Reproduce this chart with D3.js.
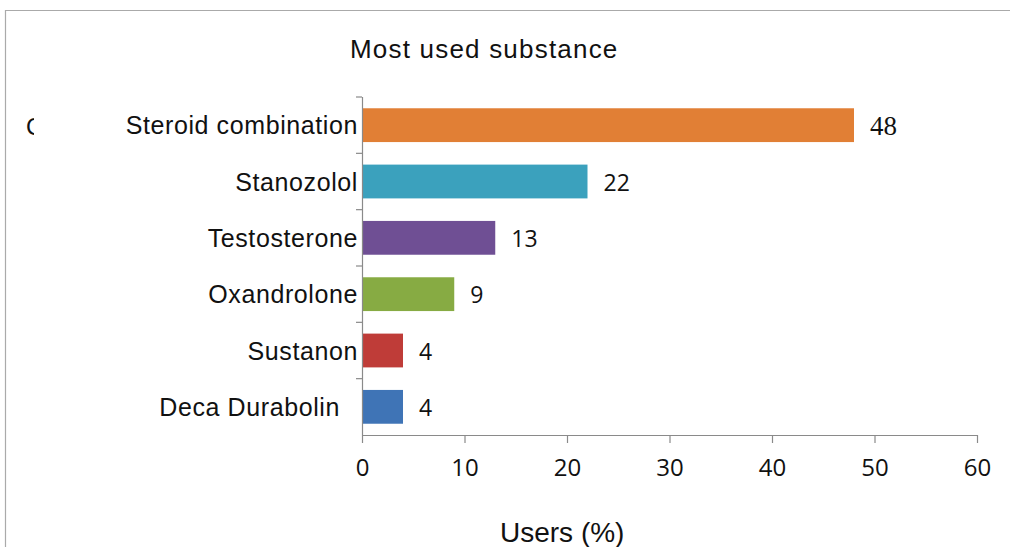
<!DOCTYPE html>
<html>
<head>
<meta charset="utf-8">
<script src="https://cdn.jsdelivr.net/npm/d3@7"></script>
<style>
  html, body { margin: 0; padding: 0; background: #fff; }
  svg { display: block; }
</style>
</head>
<body>
<svg id="chart" width="1010" height="547"></svg>
<script>
// Most used substance, share of users (%)
const categories = ["Steroid combination", "Stanozolol", "Testosterone", "Oxandrolone", "Sustanon", "Deca Durabolin"];
const values = [48, 22, 13, 9, 4, 4];
const barColors = ["#E17F35", "#3BA1BD", "#6F4F94", "#87AB43", "#BF3C38", "#3F74B6"];
const xTicks = [0, 10, 20, 30, 40, 50, 60];

const svg = d3.select("#chart");
const sans = "Liberation Sans, Arial, sans-serif";

// panel frame
svg.append("path")
  .attr("d", "M5.5,547 V10.5 H1010")
  .attr("fill", "none")
  .attr("stroke", "#aaa")
  .attr("stroke-width", 1.2);

const plot = { left: 362, right: 977, top: 97, bottom: 435 };

const x = d3.scaleLinear().domain([0, 60]).range([plot.left, plot.right]);
const y = d3.scaleBand().domain(categories).range([plot.top, plot.bottom]).paddingInner(0.4).paddingOuter(0.2);
const yEdges = d3.scaleBand().domain(categories).range([plot.top, plot.bottom]);

// title
svg.append("text")
  .attr("x", 350).attr("y", 58)
  .attr("font-family", sans)
  .attr("font-size", 26)
  .attr("letter-spacing", 1.2)
  .attr("fill", "#111")
  .text("Most used substance");

// panel letter, partly cut off at the left
svg.append("clipPath").attr("id", "letterClip")
  .append("rect").attr("x", 0).attr("y", 100).attr("width", 34).attr("height", 60);
svg.append("text")
  .attr("x", 26).attr("y", 135)
  .attr("clip-path", "url(#letterClip)")
  .attr("font-family", sans)
  .attr("font-size", 24)
  .attr("fill", "#111")
  .text("C");

// bars
svg.append("g").selectAll("rect")
  .data(categories)
  .join("rect")
  .attr("x", x(0))
  .attr("y", d => y(d))
  .attr("width", (d, i) => x(values[i]) - x(0))
  .attr("height", y.bandwidth())
  .attr("fill", (d, i) => barColors[i]);

// value labels
svg.append("g").selectAll("text")
  .data(categories)
  .join("text")
  .attr("x", (d, i) => x(values[i]) + 16)
  .attr("y", (d, i) => y(d) + y.bandwidth() / 2 + (i === 0 ? 10 : 9))
  .attr("font-family", (d, i) => i === 0 ? "Liberation Serif, Times New Roman, serif" : "Open Sans, Liberation Sans, sans-serif")
  .attr("font-size", (d, i) => i === 0 ? 27 : 23)
  .attr("fill", "#111")
  .text((d, i) => values[i]);

// category axis
const axisColor = "#8a8a8a";
const yAxisG = svg.append("g");
yAxisG.append("line")
  .attr("x1", plot.left + 0.5).attr("x2", plot.left + 0.5)
  .attr("y1", plot.top).attr("y2", plot.bottom)
  .attr("stroke", axisColor).attr("stroke-width", 1.2);
yAxisG.selectAll("line.tick")
  .data(categories.slice(1))
  .join("line")
  .attr("class", "tick")
  .attr("x1", plot.left - 6).attr("x2", plot.left)
  .attr("y1", d => yEdges(d)).attr("y2", d => yEdges(d))
  .attr("stroke", axisColor).attr("stroke-width", 1.2);
yAxisG.append("line")
  .attr("x1", plot.left - 6).attr("x2", plot.left)
  .attr("y1", plot.top).attr("y2", plot.top)
  .attr("stroke", axisColor).attr("stroke-width", 1.2);
yAxisG.selectAll("text")
  .data(categories)
  .join("text")
  .attr("x", (d, i) => i === categories.length - 1 ? plot.left - 22 : plot.left - 4)
  .attr("y", d => y(d) + y.bandwidth() / 2 + 9)
  .attr("text-anchor", "end")
  .attr("font-family", sans)
  .attr("font-size", 25)
  .attr("letter-spacing", 0.6)
  .attr("fill", "#111")
  .text(d => d);

// value axis
const xAxis = d3.axisBottom(x).tickValues(xTicks).tickSize(8).tickPadding(16);
const xAxisG = svg.append("g")
  .attr("transform", `translate(0,${plot.bottom})`)
  .call(xAxis);
xAxisG.select(".domain").attr("stroke", axisColor).attr("stroke-width", 1.2)
  .attr("d", `M${plot.left},0.5H${plot.right}`);
xAxisG.selectAll(".tick line").attr("stroke", axisColor).attr("stroke-width", 1.2);
xAxisG.selectAll(".tick text")
  .attr("font-family", "Open Sans, Liberation Sans, sans-serif")
  .attr("font-size", 24)
  .attr("fill", "#111");

// axis title
svg.append("text")
  .attr("x", 500).attr("y", 542)
  .attr("font-family", sans)
  .attr("font-size", 28)
  .attr("fill", "#111")
  .text("Users (%)");
</script>
</body>
</html>
